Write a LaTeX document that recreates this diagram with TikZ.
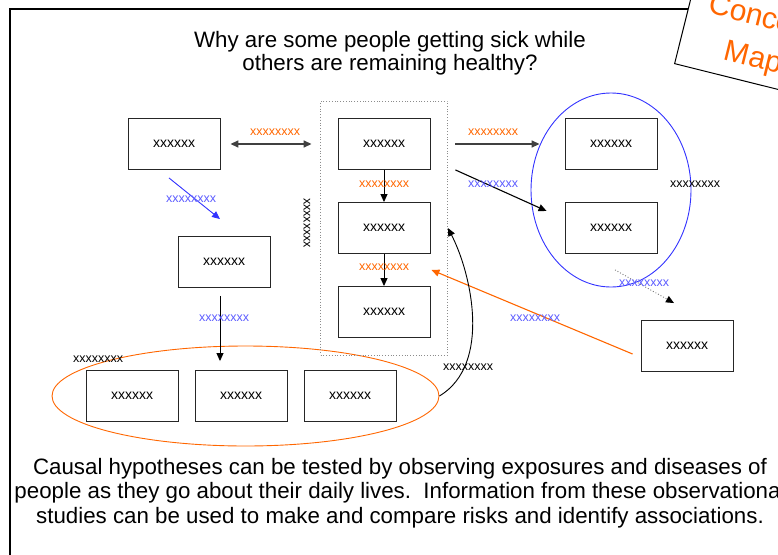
\documentclass[tikz,border=0pt]{standalone}
\usepackage{fontspec}
\setmainfont{Liberation Sans}
\usetikzlibrary{positioning,arrows.meta,calc,fit,shapes.geometric}
\definecolor{MapOrange}{HTML}{FF6600}
\definecolor{MapBlue}{HTML}{3333FF}

\begin{document}
\begin{tikzpicture}[x=1pt,y=-1pt,
  itembox/.style={draw=black!85,line width=.9pt,fill=white,minimum width=92pt,minimum height=51pt,inner sep=0pt,font=\fontsize{14}{16}\selectfont},
  lab/.style={font=\fontsize{12.5}{14}\selectfont,inner sep=0pt},
  link/.style={-{Triangle[length=8pt,width=7pt]},line width=.9pt},
  bigtext/.style={font=\fontsize{22.3}{23}\selectfont,align=center}]
\clip (0,0) rectangle (778,554);
\useasboundingbox (0,0) rectangle (778,554);

% ---------- frame and corner tag ----------
\draw[line width=1.2pt] (10,600) -- (10,9) -- (770,9);
\node[draw,line width=1pt,fill=white,rotate=-14,anchor=south west,minimum width=150pt,minimum height=88pt,
  text=MapOrange,font=\fontsize{30}{41}\selectfont,align=center] (tag) at (674,64) {Concept\\Map};
\node[bigtext] (question) at (390,53) {Why are some people getting sick while\\others are remaining healthy?};

% ---------- groupings ----------
\node[ellipse,draw=MapBlue,line width=.9pt,minimum width=160pt,minimum height=194pt,inner sep=0pt] (blueov) at (611,190) {};
\node[ellipse,draw=MapOrange,line width=.9pt,minimum width=387pt,minimum height=100pt,inner sep=0pt] (orangeov) at (245.5,396) {};

% ---------- boxes ----------
\node[itembox] (a) at (174,144) {xxxxxx};
\node[itembox] (e) at (224,262) {xxxxxx};
\node[itembox] (b) at (384,144) {xxxxxx};
\node[itembox] (c) at (384,228) {xxxxxx};
\node[itembox] (d) at (384,312) {xxxxxx};
\node[itembox] (g1) at (132,396) {xxxxxx};
\node[itembox] (g2) at (241,396) {xxxxxx};
\node[itembox] (g3) at (350,396) {xxxxxx};
\node[itembox] (r1) at (611,144) {xxxxxx};
\node[itembox] (r2) at (611,228) {xxxxxx};
\node[itembox] (f) at (687,346) {xxxxxx};
\node[draw=black!45,dotted,line width=.8pt,fit=(b)(d),inner sep=17pt] (grp) {};

% ---------- arrow ends ----------
\coordinate (ae0) at ($(a.south)+(-5,8)$);
\coordinate (ae1) at ($(e.north)+(-4,-17)$);
\coordinate (eg0) at ($(e.south)+(-4,8)$);
\coordinate (eg1) at ($(g2.north)+(-21,-9)$);
\coordinate (br0) at ($(b.south east)+(25,0)$);
\coordinate (br1) at ($(r2.west)+(-18,-17)$);
\coordinate (rf0) at ($(r2.south)+(4,16)$);
\coordinate (rf1) at ($(f.north)+(-13,-17)$);
\coordinate (fc0) at ($(f.west)+(-8,8)$);
\coordinate (fc1) at ($(c.south east)+(1,16)$);

% ---------- connectors ----------
\draw[{Triangle[length=8pt,width=7pt]}-{Triangle[length=8pt,width=7pt]},black!75,line width=1.6pt,
  shorten <=10pt,shorten >=26pt] (a.east) -- (b.west);
\draw[link,MapBlue] (ae0) -- (ae1);
\draw[link] (b) -- (c);
\draw[link] (c) -- (d);
\draw[link] (eg0) -- (eg1);
\draw[link,black!75,line width=1.6pt,shorten <=25pt,shorten >=25pt] (b.east) -- (r1.west);
\draw[link,line width=1.1pt] (br0) -- (br1);
\draw[-{Triangle[length=8pt,width=7pt,color=black]},black!55,dotted,line width=.9pt] (rf0) -- (rf1);
\draw[link,MapOrange,line width=1.1pt] (fc0) -- (fc1);
\draw[link] (orangeov.east) .. controls +(53,-32) and +(23,44) .. (grp.east |- c);

% ---------- labels ----------
\node[lab,text=MapOrange] (lab) at (275,132) {xxxxxxxx};
\node[lab,text=MapBlue!80] (lae) at (191,199) {xxxxxxxx};
\node[lab,text=MapOrange] (lbc) at (384,184) {xxxxxxxx};
\node[lab,text=MapOrange] (lcd) at (384,267) {xxxxxxxx};
\node[lab,text=MapBlue!80] (leg) at (224,318) {xxxxxxxx};
\node[lab,rotate=-90] (lgrp) at (307,223) {xxxxxxxx};
\node[lab,text=MapOrange] (lbr) at (493,132) {xxxxxxxx};
\node[lab,text=MapBlue!80] (lbr2) at (493,184) {xxxxxxxx};
\node[lab] (lblue) at (695,184) {xxxxxxxx};
\node[lab,text=MapBlue!80] (lrf) at (644,283) {xxxxxxxx};
\node[lab,text=MapBlue!80] (lfc) at (535,318) {xxxxxxxx};
\node[lab] (lcurve) at (468,367) {xxxxxxxx};
\node[lab] (lorange) at (98,359) {xxxxxxxx};

\node[bigtext,font=\fontsize{22.3}{24.5}\selectfont] (summary) at (400,493)
  {Causal hypotheses can be tested by observing exposures and diseases of\\
   people as they go about their daily lives.\ \ Information from these observational\\
   studies can be used to make and compare risks and identify associations.};
\end{tikzpicture}
\end{document}
